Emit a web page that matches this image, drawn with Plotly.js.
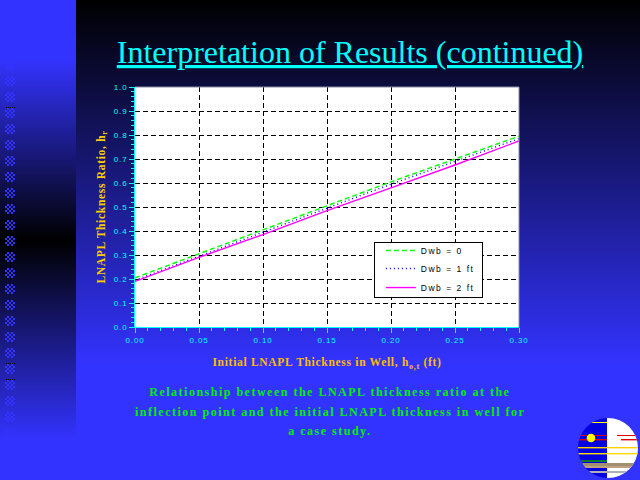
<!DOCTYPE html>
<html><head><meta charset="utf-8">
<script src="https://cdn.plot.ly/plotly-3.0.1.min.js"></script>
<style>
html,body{margin:0;padding:0;width:640px;height:480px;overflow:hidden;background:#3333ff}
#bg{position:absolute;left:76px;top:0;width:564px;height:480px;background:linear-gradient(to bottom,#000 0,#3333ff 365px,#3333ff 480px)}
#strip{position:absolute;left:0;top:0;width:76px;height:480px;background:linear-gradient(to bottom,#3333ff 0,#3333ff 60px,#000 240px,#3333ff 440px,#3333ff 480px)}
.sq{position:absolute;left:5px;width:10px;height:10px;background:repeating-conic-gradient(#3333ff 0 25%,transparent 0 50%) 0 0/4px 4px}
.dots{position:absolute;left:6px;width:10px;height:1px;background:repeating-linear-gradient(to right,#000 0 1px,transparent 1px 2px)}
#plot{position:absolute;left:0;top:0;width:640px;height:480px}
#logo{position:absolute;left:577px;top:417px}
#plot .xtick text,#plot .ytick text{letter-spacing:.8px}
#plot .legendtext{letter-spacing:1.5px}
#plot .xtitle,#plot .ytitle{letter-spacing:.7px}
#plot .annotation-text{letter-spacing:1.5px}
</style></head><body>
<div id="bg"></div><div id="strip"></div>
<svg id="logo" width="62" height="62" viewBox="0 0 62 62">
<defs><clipPath id="c"><circle cx="31" cy="31" r="30"/></clipPath></defs>
<g clip-path="url(#c)">
<rect width="30" height="62" fill="#0000e0"/><rect x="30" width="32" height="62" fill="#fff"/>
<rect x="0" y="5" width="30" height="1" fill="#ffff00"/>
<rect x="0" y="18" width="30" height="1" fill="#e00000"/><rect x="0" y="22" width="30" height="1.4" fill="#e00000"/>
<rect x="40" y="18" width="22" height="1" fill="#e00000"/><rect x="44" y="22" width="18" height="1.4" fill="#e00000"/>
<rect x="0" y="30" width="62" height="1.4" fill="#ffd000"/><rect x="0" y="36" width="62" height="1.4" fill="#ffe000"/>
<rect x="4" y="43" width="26" height="2" fill="#0a7a30"/>
<rect x="0" y="46" width="62" height="3" fill="#a09070"/><rect x="0" y="49" width="62" height="2" fill="#c0a080"/>
<rect x="0" y="54" width="62" height="2" fill="#b0b0b0"/>
<circle cx="14" cy="21" r="4.3" fill="#ffff00"/>
</g></svg>
<div id="plot"></div>
<script>
var xValues=[0,0.05,0.10,0.15,0.20,0.25,0.30];
var dwb0=[0.205,0.305,0.405,0.505,0.605,0.70,0.795];
var dwb1=[0.195,0.295,0.395,0.495,0.595,0.69,0.785];
var dwb2=[0.19,0.29,0.385,0.485,0.58,0.675,0.775];
var seriesNames=["Dwb = 0","Dwb = 1 ft","Dwb = 2 ft"];
var titleText="<u>Interpretation of Results (continued)</u>";
var xTitle="Initial LNAPL Thickness in Well, h<sub>o,t</sub> (ft)";
var yTitle="LNAPL Thickness Ratio, h<sub>r</sub>";
var captionLines=["Relationship between the LNAPL thickness ratio at the","inflection point and the initial LNAPL thickness in well for","a case study."];

var anchor=document.getElementById('plot');
for(var y=28;y<=446;y+=16){var d=document.createElement('div');d.className='sq';d.style.top=y+'px';document.body.insertBefore(d,anchor);}
[107,363,379].forEach(function(t){var d=document.createElement('div');d.className='dots';d.style.top=t+'px';document.body.insertBefore(d,anchor);});

function tr(v,n,c,dash){return {x:xValues,y:v,name:n,mode:'lines',line:{color:c,width:1.4,dash:dash}};}
var axis={showgrid:true,gridcolor:'#000',griddash:'5px,3px',gridwidth:1,zeroline:false,showline:true,linecolor:'#00ffff',linewidth:1,
 ticks:'outside',ticklen:5,tickwidth:1,tickcolor:'#00ffff',tickfont:{family:'Liberation Sans',size:8,color:'#00ffff'}};
var layout={width:640,height:480,paper_bgcolor:'rgba(0,0,0,0)',plot_bgcolor:'#fff',showlegend:true,
 margin:{l:135,r:121,t:87,b:153,pad:0},
 title:{text:titleText,font:{family:'Liberation Serif',size:32,color:'#00ffff'},x:350/640,xanchor:'center',y:1-63/480,yanchor:'bottom'},
 xaxis:Object.assign({},axis,{range:[0,0.3],tick0:0,dtick:0.05,tickformat:'.2f',
   minor:{dtick:0.01,ticks:'outside',ticklen:3,tickcolor:'#00ffff',showgrid:false},
   title:{text:xTitle,standoff:14,font:{family:'Liberation Serif',size:11.5,color:'#ffbb00',weight:'bold'}}}),
 yaxis:Object.assign({},axis,{range:[0,1],tick0:0,dtick:0.1,tickformat:'.1f',
   minor:{dtick:0.02,ticks:'outside',ticklen:3,tickcolor:'#00ffff',showgrid:false},
   title:{text:yTitle,standoff:8,font:{family:'Liberation Serif',size:11.5,color:'#ffcc00',weight:'bold'}}}),
 legend:{x:0.622,y:0.354,xanchor:'left',yanchor:'top',bgcolor:'#fff',bordercolor:'#000',borderwidth:1,
   font:{family:'Liberation Sans',size:8.5,color:'#000'},itemwidth:30,entrywidth:104,entrywidthmode:'pixels',tracegroupgap:0},
 shapes:[{type:'line',xref:'paper',yref:'paper',x0:0,x1:1,y0:1,y1:1,line:{color:'#8a8aa8',width:1}},
         {type:'line',xref:'paper',yref:'paper',x0:1,x1:1,y0:0,y1:1,line:{color:'#8a8aa8',width:1}}],
 annotations:captionLines.map(function(t,i){return {text:t,xref:'paper',yref:'paper',showarrow:false,
   x:(330-135)/384,y:(327-[392,412,431][i])/240,xanchor:'center',yanchor:'middle',
   font:{family:'Liberation Serif',size:12,color:'#00f000',weight:'bold'}};})
};
Plotly.newPlot('plot',[tr(dwb0,seriesNames[0],'#00ff00','5px,3px'),tr(dwb1,seriesNames[1],'#0000ff','1px,3px'),tr(dwb2,seriesNames[2],'#ff00ff','solid')],layout,{displayModeBar:false,staticPlot:true}).then(function(){
  var bg=document.querySelector('#plot .legend .bg');
  var box=document.querySelector('#plot .legend .scrollbox');
  if(bg){bg.setAttribute('height','55');bg.setAttribute('width','108');}
  if(box){box.removeAttribute('clip-path');box.style.clipPath='none';}
  document.querySelectorAll('#plot .legend .traces').forEach(function(t,i){
    var m=/translate\(\s*([-\d.]+)[ ,]+([-\d.]+)/.exec(t.getAttribute('transform')||'');
    if(m){t.setAttribute('transform','translate('+(parseFloat(m[1])+6)+','+(parseFloat(m[2])-[7,8,8][i])+')');}
  });
});
</script></body></html>
